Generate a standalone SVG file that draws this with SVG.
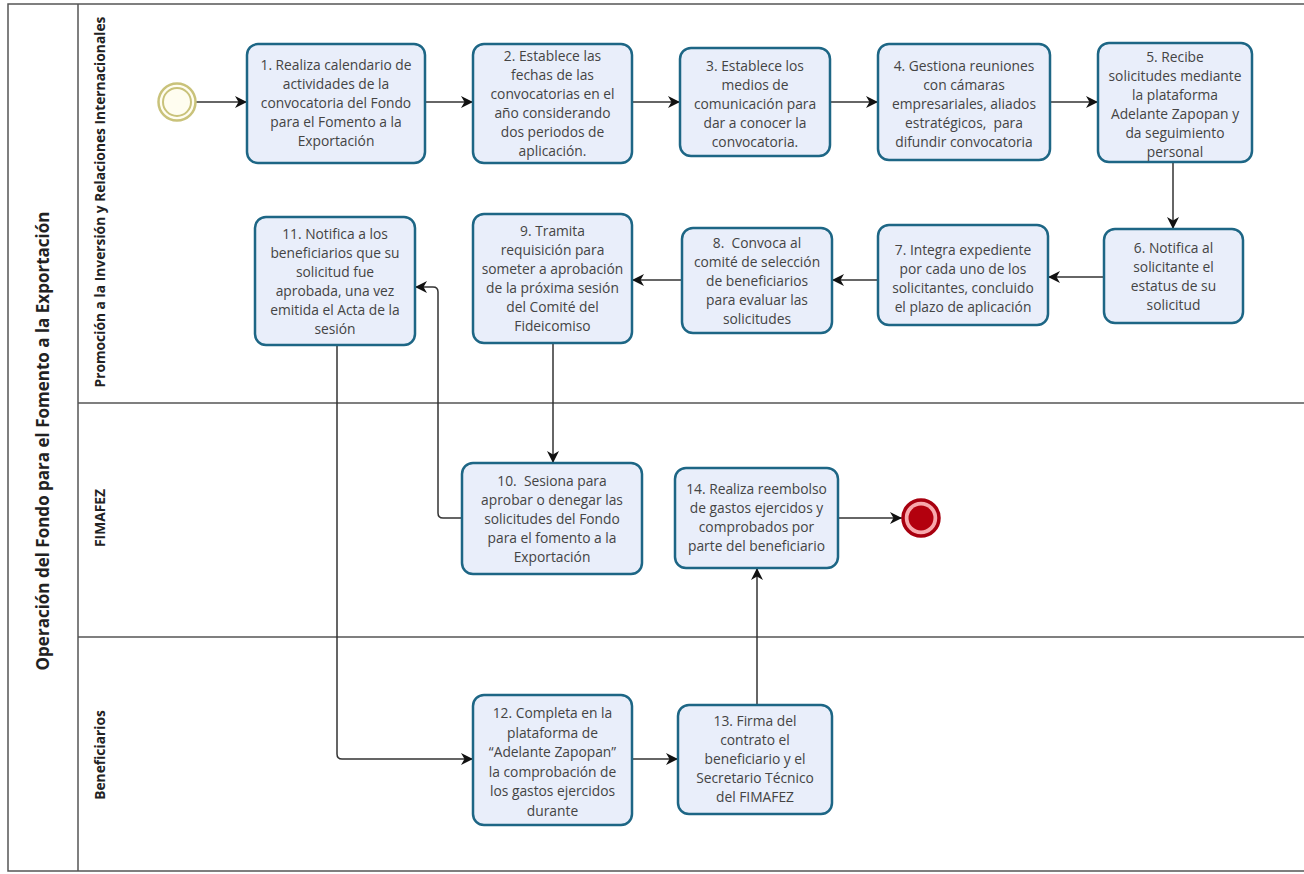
<svg xmlns="http://www.w3.org/2000/svg" width="1304" height="874" viewBox="0 0 1304 874">
  <style>
    .frame { fill: none; stroke: #555; stroke-width: 1.5; }
    .task rect { fill: #e9eefa; stroke: #1d6685; stroke-width: 2.5; }
    .task text { font-family: "Open Sans", "Noto Sans", sans-serif; font-size: 13.8px; fill: #444; text-anchor: middle; white-space: pre; }
    .lane-label { font-family: "Open Sans", "Noto Sans", sans-serif; font-size: 13.8px; font-weight: bold; fill: #222; text-anchor: middle; }
    .pool-label { font-family: "Open Sans", "Noto Sans", sans-serif; font-size: 17px; font-weight: bold; fill: #222; text-anchor: middle; }
    .flow { fill: none; stroke: #333; stroke-width: 1.5; marker-end: url(#arrow); }
  </style>
  <defs>
    <marker id="arrow" markerUnits="userSpaceOnUse" markerWidth="13" markerHeight="12" refX="12" refY="6" orient="auto">
      <path d="M0,0 L12,6 L0,12 L3.5,6 z" fill="#111"/>
    </marker>
  </defs>

  <rect width="1304" height="874" fill="#fff"/>

  <!-- pool and lanes -->
  <g id="pool">
    <rect class="frame" x="8" y="4" width="1310" height="867"/>
    <line class="frame" x1="78" y1="4" x2="78" y2="871"/>
    <line class="frame" x1="78" y1="403" x2="1304" y2="403"/>
    <line class="frame" x1="78" y1="637" x2="1304" y2="637"/>
    <text class="pool-label" transform="translate(49,441) rotate(-90)">Operación del Fondo para el Fomento a la Exportación</text>
    <text class="lane-label" transform="translate(105,202) rotate(-90)">Promoción a la Inversión y Relaciones Internacionales</text>
    <text class="lane-label" transform="translate(105,518) rotate(-90)">FIMAFEZ</text>
    <text class="lane-label" transform="translate(105,755) rotate(-90)">Beneficiarios</text>
  </g>

  <!-- connectors -->
  <g id="connectors">
    <line class="flow" x1="196" y1="102" x2="247" y2="102"/>
    <line class="flow" x1="425" y1="102" x2="473" y2="102"/>
    <line class="flow" x1="632" y1="102" x2="680" y2="102"/>
    <line class="flow" x1="830" y1="102" x2="878" y2="102"/>
    <line class="flow" x1="1050" y1="102" x2="1098" y2="102"/>
    <line class="flow" x1="1173" y1="162" x2="1173" y2="229"/>
    <line class="flow" x1="1104" y1="277" x2="1048" y2="277"/>
    <line class="flow" x1="878" y1="280" x2="832" y2="280"/>
    <line class="flow" x1="682" y1="280" x2="632" y2="280"/>
    <line class="flow" x1="553" y1="343" x2="553" y2="463"/>
    <path class="flow" d="M462,518 H443 Q438,518 438,513 V292 Q438,287 433,287 H415"/>
    <path class="flow" d="M337,345 V754 Q337,759 342,759 H473"/>
    <line class="flow" x1="632" y1="759" x2="678" y2="759"/>
    <line class="flow" x1="757" y1="705" x2="757" y2="568"/>
    <line class="flow" x1="838" y1="518" x2="902" y2="518"/>
  </g>

  <!-- events -->
  <g id="start">
    <circle cx="177" cy="102" r="18.5" fill="#fffdf0" stroke="#c9c27a" stroke-width="2.5"/>
    <circle cx="177" cy="102" r="14" fill="#fffdf0" stroke="#c9c27a" stroke-width="2"/>
  </g>
  <g id="end">
    <circle cx="921" cy="518" r="18" fill="#f8a9ad" stroke="#a8000f" stroke-width="3.5"/>
    <circle cx="921" cy="518" r="12.5" fill="#b3000e"/>
  </g>

  <!-- tasks -->
  <g id="task1" class="task">
    <rect x="247" y="44" width="178" height="119" rx="11"/>
    <text x="336" y="70"><tspan x="336">1. Realiza calendario de</tspan><tspan x="336" dy="19">actividades de la</tspan><tspan x="336" dy="19">convocatoria del Fondo</tspan><tspan x="336" dy="19">para el Fomento a la</tspan><tspan x="336" dy="19">Exportación</tspan></text>
  </g>
  <g id="task2" class="task">
    <rect x="473" y="44" width="159" height="119" rx="11"/>
    <text x="552.5" y="61"><tspan x="552.5">2. Establece las</tspan><tspan x="552.5" dy="19">fechas de las</tspan><tspan x="552.5" dy="19">convocatorias en el</tspan><tspan x="552.5" dy="19">año considerando</tspan><tspan x="552.5" dy="19">dos periodos de</tspan><tspan x="552.5" dy="19">aplicación.</tspan></text>
  </g>
  <g id="task3" class="task">
    <rect x="680" y="48" width="150" height="108" rx="11"/>
    <text x="755" y="70.5"><tspan x="755">3. Establece los</tspan><tspan x="755" dy="19">medios de</tspan><tspan x="755" dy="19">comunicación para</tspan><tspan x="755" dy="19">dar a conocer la</tspan><tspan x="755" dy="19">convocatoria.</tspan></text>
  </g>
  <g id="task4" class="task">
    <rect x="878" y="44" width="172" height="116" rx="11"/>
    <text x="964" y="70.5"><tspan x="964">4. Gestiona reuniones</tspan><tspan x="964" dy="19">con cámaras</tspan><tspan x="964" dy="19">empresariales, aliados</tspan><tspan x="964" dy="19">estratégicos,  para</tspan><tspan x="964" dy="19">difundir convocatoria</tspan></text>
  </g>
  <g id="task5" class="task">
    <rect x="1098" y="43" width="154" height="119" rx="11"/>
    <text x="1175" y="62"><tspan x="1175">5. Recibe</tspan><tspan x="1175" dy="19">solicitudes mediante</tspan><tspan x="1175" dy="19">la plataforma</tspan><tspan x="1175" dy="19">Adelante Zapopan y</tspan><tspan x="1175" dy="19">da seguimiento</tspan><tspan x="1175" dy="19">personal</tspan></text>
  </g>
  <g id="task6" class="task">
    <rect x="1104" y="229" width="139" height="94" rx="11"/>
    <text x="1173.5" y="253"><tspan x="1173.5">6. Notifica al</tspan><tspan x="1173.5" dy="19">solicitante el</tspan><tspan x="1173.5" dy="19">estatus de su</tspan><tspan x="1173.5" dy="19">solicitud</tspan></text>
  </g>
  <g id="task7" class="task">
    <rect x="878" y="225" width="170" height="100" rx="11"/>
    <text x="963" y="255"><tspan x="963">7. Integra expediente</tspan><tspan x="963" dy="19">por cada uno de los</tspan><tspan x="963" dy="19">solicitantes, concluido</tspan><tspan x="963" dy="19">el plazo de aplicación</tspan></text>
  </g>
  <g id="task8" class="task">
    <rect x="682" y="228" width="150" height="105" rx="11"/>
    <text x="757" y="247.5"><tspan x="757">8.  Convoca al</tspan><tspan x="757" dy="19">comité de selección</tspan><tspan x="757" dy="19">de beneficiarios</tspan><tspan x="757" dy="19">para evaluar las</tspan><tspan x="757" dy="19">solicitudes</tspan></text>
  </g>
  <g id="task9" class="task">
    <rect x="473" y="214" width="159" height="129" rx="11"/>
    <text x="552.5" y="236"><tspan x="552.5">9. Tramita</tspan><tspan x="552.5" dy="19">requisición para</tspan><tspan x="552.5" dy="19">someter a aprobación</tspan><tspan x="552.5" dy="19">de la próxima sesión</tspan><tspan x="552.5" dy="19">del Comité del</tspan><tspan x="552.5" dy="19">Fideicomiso</tspan></text>
  </g>
  <g id="task10" class="task">
    <rect x="462" y="463" width="180" height="111" rx="11"/>
    <text x="552" y="486"><tspan x="552">10.  Sesiona para</tspan><tspan x="552" dy="19">aprobar o denegar las</tspan><tspan x="552" dy="19">solicitudes del Fondo</tspan><tspan x="552" dy="19">para el fomento a la</tspan><tspan x="552" dy="19">Exportación</tspan></text>
  </g>
  <g id="task11" class="task">
    <rect x="255" y="217" width="160" height="128" rx="11"/>
    <text x="335" y="238.5"><tspan x="335">11. Notifica a los</tspan><tspan x="335" dy="19">beneficiarios que su</tspan><tspan x="335" dy="19">solicitud fue</tspan><tspan x="335" dy="19">aprobada, una vez</tspan><tspan x="335" dy="19">emitida el Acta de la</tspan><tspan x="335" dy="19">sesión</tspan></text>
  </g>
  <g id="task12" class="task">
    <rect x="473" y="695" width="159" height="130" rx="11"/>
    <text x="552.5" y="718"><tspan x="552.5">12. Completa en la</tspan><tspan x="552.5" dy="19.5">plataforma de</tspan><tspan x="552.5" dy="19.5">“Adelante Zapopan”</tspan><tspan x="552.5" dy="19.5">la comprobación de</tspan><tspan x="552.5" dy="19.5">los gastos ejercidos</tspan><tspan x="552.5" dy="19.5">durante</tspan></text>
  </g>
  <g id="task13" class="task">
    <rect x="678" y="705" width="154" height="109" rx="11"/>
    <text x="755" y="726"><tspan x="755">13. Firma del</tspan><tspan x="755" dy="19">contrato el</tspan><tspan x="755" dy="19">beneficiario y el</tspan><tspan x="755" dy="19">Secretario Técnico</tspan><tspan x="755" dy="19">del FIMAFEZ</tspan></text>
  </g>
  <g id="task14" class="task">
    <rect x="675" y="468" width="163" height="100" rx="11"/>
    <text x="756.5" y="494"><tspan x="756.5">14. Realiza reembolso</tspan><tspan x="756.5" dy="19">de gastos ejercidos y</tspan><tspan x="756.5" dy="19">comprobados por</tspan><tspan x="756.5" dy="19">parte del beneficiario</tspan></text>
  </g>
</svg>
